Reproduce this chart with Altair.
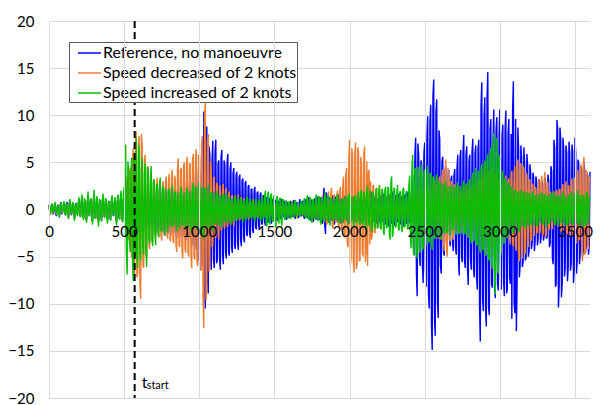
import altair as alt
import pandas as pd

# samples every 5 s: main samples at 0,10,...,3600 and mid samples at 5,15,...,3595
times_main = list(range(0, 3601, 10))
times_mid = list(range(5, 3600, 10))

blue = [
    0.5,-0.4,0.6,-0.5,0.4,-0.7,0.5,-0.6,0.8,-0.3,
    0.7,-0.6,0.8,-0.8,0.9,-0.6,0.6,-0.9,0.7,-0.5,
    1.0,-0.8,1.2,-0.9,0.9,-1.1,1.3,-0.7,1.1,-1.2,
    1.4,-1.0,1.1,-1.3,1.0,-1.2,1.2,-0.8,1.0,-1.1,
    0.9,-1.1,1.2,-0.7,1.0,-1.3,1.4,-1.0,1.5,-1.2,
    1.6,-1.9,2.2,-2.4,2.8,-2.6,3.0,-2.9,2.7,-2.5,
    2.6,-2.3,2.4,-2.2,2.0,-2.1,2.3,-1.9,2.1,-2.0,
    2.2,-2.4,2.6,-2.1,2.9,-2.5,2.7,-2.8,3.1,-2.6,
    2.9,-2.7,3.1,-2.5,2.8,-3.0,2.6,-2.9,3.2,-2.8,
    3.0,-3.3,3.4,-2.9,3.6,-3.8,3.9,-4.2,4.6,-5.5,
    5.2,-6.4,7.2,10.4,-10.5,8.8,-8.9,5.8,-6.4,7.3,
    -6.2,7.4,-5.4,5.2,-6.4,6.3,-5.8,4.8,-5.2,5.9,
    -4.9,5.0,-4.6,4.4,-4.2,4.0,-4.3,3.7,-3.9,3.3,
    -3.5,3.0,-2.8,2.6,-3.0,2.2,-2.5,2.4,-2.1,1.9,
    -2.2,1.8,-1.6,1.5,-1.7,1.3,-1.4,1.2,-1.5,1.1,
    -1.3,1.0,-1.2,0.9,-1.0,1.1,-0.8,0.9,-1.1,0.8,
    -0.9,0.9,-0.8,1.0,-1.0,0.8,-0.9,1.1,-0.7,0.9,
    -1.0,1.1,-0.9,1.3,-1.2,1.0,-1.3,1.2,-1.0,1.4,
    -1.1,1.3,-1.5,2.3,-2.6,1.5,-1.4,1.3,-1.2,1.5,
    -1.6,1.4,-1.3,1.6,-1.5,1.2,-1.4,1.5,-1.2,1.3,
    -1.5,1.2,-1.1,1.4,-1.3,1.0,-1.2,1.3,-1.4,1.1,
    -1.0,1.3,-1.2,1.5,-1.4,1.9,-1.3,1.4,-1.5,1.2,
    -1.4,1.5,-1.3,1.7,-1.6,1.4,-1.8,1.6,-1.5,1.9,
    -1.7,1.5,-1.3,1.7,-1.6,1.4,-1.8,1.6,-1.5,1.9,
    1.8,-2.2,3.6,-4.8,7.6,-9.2,5.8,-6.0,4.8,-7.8,
    7.1,-8.2,9.9,-10.5,11.1,-14.9,13.8,-13.4,11.7,-11.5,
    7.5,-6.8,5.6,-4.9,4.6,-3.8,4.2,-3.9,3.6,-4.4,
    4.3,-4.8,5.8,-7.0,6.3,-5.6,7.9,-6.2,6.7,-8.0,
    5.8,-6.4,7.5,-7.2,6.8,-8.5,7.4,-14.0,13.5,-10.8,
    11.9,-12.4,14.6,-11.2,9.6,-8.3,10.6,-9.4,9.8,-8.6,
    10.6,-8.5,9.0,-9.2,10.5,-8.4,9.6,-7.9,-11.6,13.6,
    -11.0,-12.9,8.7,-7.2,6.8,-6.1,6.6,-5.4,5.9,-5.0,
    4.8,-4.2,3.9,-4.4,3.5,-3.8,3.2,-3.6,3.0,-3.3,
    3.4,-3.1,3.7,-4.0,4.6,-5.2,7.4,-8.2,9.5,-10.4,
    8.7,-9.3,7.6,-7.1,6.8,-7.6,7.2,-6.5,6.9,-7.8,
    7.6,-6.8,5.3,-5.8,4.6,-5.0,5.0,-4.5,3.9,-4.8,
    4.0,
]
blue_mid = [
    -0.2,0.3,-0.4,0.2,-0.5,0.3,-0.2,0.4,-0.5,0.2,
    -0.4,0.5,-0.3,0.6,-0.4,0.3,-0.6,0.4,-0.3,0.5,
    -0.6,0.7,-0.5,0.6,-0.8,0.7,-0.4,0.9,-0.6,0.8,
    -0.7,0.6,-0.9,0.7,-0.6,0.8,-0.5,0.7,-0.8,0.6,
    -0.6,0.8,-0.5,0.7,-0.9,0.8,-0.7,1.0,-0.8,1.1,
    -1.2,1.4,-1.8,2.0,-1.9,2.2,-2.1,2.0,-1.8,1.9,
    -1.7,1.8,-1.6,1.5,-1.4,1.7,-1.3,1.6,-1.5,1.4,
    -1.6,1.8,-1.5,2.0,-1.9,2.1,-2.0,2.2,-1.9,2.1,
    -2.0,2.2,-1.9,2.1,-2.3,2.0,-2.2,2.4,-2.1,2.3,
    -2.4,2.6,-2.2,2.8,-2.9,3.0,-3.1,3.5,-3.8,4.1,
    -4.8,5.5,-6.0,-8.6,8.0,-7.5,6.7,-5.0,5.2,-5.4,
    6.1,-5.7,4.9,-5.1,5.6,-4.9,5.2,-4.6,4.9,-4.5,
    4.2,-4.0,3.9,-3.8,3.6,-3.5,3.4,-3.2,3.1,-2.9,
    2.8,-2.6,2.4,-2.5,2.1,-2.2,2.0,-1.9,1.8,-1.7,
    1.6,-1.5,1.4,-1.3,1.2,-1.2,1.1,-1.0,1.0,-0.9,
    0.9,-0.8,0.8,-0.7,0.9,-0.6,0.8,-0.7,0.6,-0.7,
    0.7,-0.6,0.8,-0.7,0.6,-0.8,0.7,-0.6,0.8,-0.7,
    0.8,-0.7,0.9,-0.8,1.0,-0.9,0.8,-1.0,0.9,-1.0,
    1.0,-1.1,1.2,-1.7,1.8,-1.2,1.1,-1.0,1.2,-1.1,
    1.1,-1.0,1.2,-1.1,1.0,-1.1,1.2,-1.0,1.1,-1.2,
    1.0,-0.9,1.1,-1.0,0.9,-1.0,1.1,-1.1,0.9,-1.0,
    1.0,-1.1,1.2,-1.1,1.4,-1.2,1.1,-1.2,1.0,-1.1,
    1.2,-1.1,1.3,-1.2,1.1,-1.3,1.2,-1.2,1.4,-1.3,
    1.3,-1.2,1.4,-1.3,1.2,-1.4,1.3,-1.2,1.5,-1.4,
    -1.5,2.8,-3.9,5.9,-6.8,7.0,-4.9,5.2,-6.1,6.0,
    -6.4,7.6,-8.8,9.4,-12.1,12.0,-11.6,10.3,-9.8,8.4,
    -6.0,5.1,-4.5,3.9,-3.4,3.5,-3.1,3.2,-3.5,3.6,
    -3.9,4.4,-5.3,5.6,-4.9,6.1,-5.4,5.9,-6.4,5.2,
    -5.2,6.1,-6.3,6.0,-7.1,6.4,-10.2,11.0,-9.5,9.8,
    -10.5,11.8,-10.4,8.6,-7.9,7.6,-8.2,8.5,-7.8,7.9,
    -7.4,7.9,-7.6,8.4,-8.9,8.1,-7.2,8.0,10.4,-9.8,
    9.6,-7.5,6.4,-5.9,5.4,-5.6,4.9,-5.0,4.6,-4.3,
    3.9,-3.6,3.5,-3.3,3.0,-3.1,2.8,-2.9,2.6,-2.8,
    2.7,-2.9,3.1,-3.6,4.1,-5.8,6.5,-7.9,8.4,-8.1,
    7.6,-7.8,6.4,-6.2,6.0,-6.1,6.0,-5.8,6.2,-6.4,
    6.0,-5.4,4.9,-4.6,4.2,-4.4,4.0,-3.9,3.6,-3.8,
]

orange = [
    0.4,-0.6,0.5,-0.3,0.7,-0.5,0.3,-0.8,0.6,-0.4,
    0.8,-0.5,0.6,-0.9,1.0,-0.5,0.7,-1.0,0.5,-0.6,
    1.1,-0.7,1.3,-1.0,0.8,-1.2,1.5,-0.6,1.0,-1.3,
    1.6,-0.9,1.2,-1.5,0.9,-1.1,1.4,-0.8,1.0,-1.2,
    0.7,-1.0,1.3,-0.5,1.1,-1.4,1.3,-0.9,1.6,-1.2,
    1.8,-2.5,3.5,-3.2,4.4,-5.1,6.5,-7.0,8.3,-6.8,
    7.8,-9.5,6.9,-6.2,5.8,-5.0,4.6,-4.2,3.9,-3.5,
    3.1,-2.8,3.4,-3.0,2.6,-3.3,3.0,-2.7,3.5,-3.1,
    3.8,-3.4,4.2,-3.6,3.3,-4.5,5.4,-4.0,4.4,-5.2,
    5.0,-4.6,5.6,-5.0,4.8,-6.2,5.9,-5.3,6.4,-6.0,
    5.7,-6.5,7.8,-12.6,11.3,-8.3,8.0,-6.1,4.2,-3.8,
    3.4,-3.0,2.8,-3.2,2.5,-2.2,2.7,-2.0,2.3,-1.8,
    1.9,-1.6,1.5,-1.8,1.4,-1.2,1.6,-1.1,1.3,-1.0,
    1.2,-1.0,0.9,-1.1,1.0,-0.8,1.1,-0.9,0.8,-1.0,
    0.9,-0.7,1.0,-0.8,0.7,-0.9,0.8,-0.6,0.9,-0.8,
    0.8,-0.9,0.6,-0.7,0.9,-0.6,0.7,-0.8,0.6,-0.7,
    0.7,-0.8,0.9,-0.6,0.8,-0.9,0.6,-0.7,0.8,-0.6,
    0.9,-0.7,1.1,-0.8,1.0,-1.2,0.9,-1.0,1.2,-0.9,
    1.3,-1.1,1.5,-1.4,1.2,-1.6,1.9,-1.5,2.3,-2.0,
    1.6,-1.4,2.0,-1.8,2.4,-2.2,3.5,-2.8,4.4,-4.0,
    7.4,-5.2,5.8,-6.7,7.1,-5.9,6.0,-5.4,4.8,-5.0,
    6.7,-4.6,-6.0,4.2,3.0,-2.9,2.6,-2.5,2.2,-1.8,
    2.0,-1.7,1.8,-1.9,1.5,-1.6,1.7,-1.4,1.6,-1.3,
    1.4,-1.6,1.3,-1.2,1.5,-1.4,1.2,-1.5,1.4,-1.3,
    1.7,-1.9,2.0,-1.6,2.3,-1.8,2.1,-2.2,1.9,-2.0,
    2.3,-2.1,2.6,-2.4,2.2,-2.8,3.0,-2.5,2.7,-3.1,
    3.5,-3.2,4.2,-4.4,5.3,-5.0,3.6,-3.4,3.0,-3.2,
    2.6,-2.2,2.4,-2.5,2.0,-2.3,2.5,-1.9,2.2,-2.4,
    2.3,-2.0,2.7,-2.4,2.9,-2.6,3.2,-2.8,3.6,-3.0,
    5.0,-3.5,4.2,-4.0,4.4,-5.2,4.6,-4.3,3.9,-3.6,
    3.2,-3.4,2.9,-3.1,3.6,-2.8,3.3,-3.7,4.1,-3.9,
    4.6,-4.4,5.3,-5.5,4.9,-5.2,4.3,-4.7,3.6,-4.0,
    3.1,-3.3,2.6,-2.8,2.3,-2.5,3.2,-2.2,3.6,-2.4,
    4.0,-2.6,2.9,-2.0,1.7,-2.1,1.9,-1.6,2.1,-1.8,
    2.2,-2.4,2.7,-2.1,3.0,-2.6,2.4,-2.9,3.3,-2.7,
    3.4,-3.6,4.2,-3.1,4.8,-5.5,5.6,-4.6,3.9,-4.2,
    3.0,
]
orange_mid = [
    -0.3,0.2,-0.4,0.3,-0.3,0.4,-0.5,0.3,-0.2,0.5,
    -0.4,0.3,-0.6,0.5,-0.3,0.6,-0.5,0.4,-0.4,0.6,
    -0.5,0.8,-0.6,0.7,-0.9,0.8,-0.5,0.7,-0.8,0.9,
    -0.6,0.8,-0.9,0.6,-0.7,0.9,-0.6,0.8,-0.7,0.6,
    -0.5,0.8,-0.4,0.7,-0.9,0.8,-0.6,1.0,-0.8,1.2,
    -1.6,2.4,-2.8,3.6,-4.2,5.0,-5.8,6.9,-7.2,7.1,
    -7.8,8.0,-5.9,5.3,-4.9,4.4,-3.8,3.6,-3.2,2.9,
    -2.6,2.7,-2.5,2.4,-2.8,2.5,-2.3,2.8,-2.6,3.0,
    -3.1,3.3,-3.2,3.6,-3.8,4.3,-3.7,4.2,-4.4,4.6,
    -4.3,4.7,-4.5,4.9,-5.1,5.2,-5.0,5.4,-5.6,5.8,
    -6.1,6.8,-9.5,9.8,-9.6,7.2,-6.6,5.1,-4.0,3.4,
    -3.0,2.7,-2.6,2.5,-2.2,2.1,-1.9,2.0,-1.7,1.6,
    -1.5,1.4,-1.3,1.4,-1.1,1.2,-1.0,1.1,-0.9,1.0,
    -0.9,0.8,-0.8,0.9,-0.7,0.8,-0.7,0.8,-0.7,0.7,
    -0.6,0.7,-0.6,0.6,-0.7,0.6,-0.5,0.7,-0.6,0.6,
    -0.6,0.7,-0.5,0.6,-0.5,0.6,-0.6,0.5,-0.5,0.6,
    -0.6,0.6,-0.5,0.7,-0.6,0.5,-0.6,0.6,-0.5,0.7,
    -0.6,0.8,-0.7,0.9,-0.8,0.8,-0.9,0.9,-0.8,1.0,
    -0.9,1.1,-1.0,1.2,-1.3,1.4,-1.3,1.6,-1.7,1.5,
    -1.2,1.5,-1.6,1.9,-2.0,2.6,-3.0,3.8,-3.6,5.2,
    -6.0,6.5,-5.4,5.9,-6.3,6.6,-5.5,5.6,-4.6,5.8,
    -5.6,5.1,3.8,-3.7,-3.2,2.5,-2.4,2.1,-2.0,1.8,
    -1.6,1.5,-1.6,1.4,-1.3,1.4,-1.2,1.3,-1.2,1.2,
    -1.3,1.2,-1.1,1.2,-1.2,1.1,-1.3,1.2,-1.1,1.4,
    -1.5,1.6,-1.7,1.8,-1.6,1.9,-1.8,1.7,-1.8,2.0,
    -1.8,2.2,-2.0,2.3,-2.4,2.5,-2.2,2.4,-2.6,2.9,
    -2.8,3.4,-3.6,3.9,-4.2,4.4,-3.1,2.9,-2.7,2.6,
    -2.3,2.1,-2.2,2.0,-2.1,1.9,-2.0,2.1,-1.9,2.0,
    -1.9,2.2,-2.1,2.5,-2.4,2.8,-2.6,3.1,-2.9,3.3,
    -3.4,3.8,-3.6,3.9,-4.4,4.0,-3.9,3.6,-3.3,3.0,
    -2.9,2.6,-2.7,3.0,-2.6,3.1,-3.0,3.4,-3.5,3.8,
    -4.0,4.5,-4.6,4.8,-4.5,4.6,-4.1,3.9,-3.5,3.2,
    -2.8,2.7,-2.4,2.3,-2.1,2.4,-2.6,2.9,-2.8,3.0,
    -2.9,2.4,-2.2,1.9,-1.8,1.7,-1.6,1.8,-1.7,1.9,
    -2.0,2.3,-2.2,2.4,-2.5,2.6,-2.4,2.8,-2.7,3.0,
    -3.1,3.5,-3.3,3.8,-4.2,4.6,-4.8,4.2,-3.8,3.5,
]

green = [
    0.3,-0.5,0.6,-0.2,0.8,-0.6,0.4,-0.9,0.7,-0.3,
    0.9,-0.6,0.5,-1.0,1.1,-0.4,0.8,-1.2,0.6,-0.7,
    1.3,-0.8,1.6,-1.1,0.9,-1.4,1.9,-0.7,1.2,-1.6,
    2.1,-1.0,1.4,-1.8,1.0,-1.3,1.7,-0.9,1.1,-1.5,
    0.8,-1.2,1.5,-0.6,1.3,-1.7,1.6,-1.1,2.0,-1.4,
    2.4,6.9,-6.9,4.2,-4.5,5.5,-7.6,6.0,7.6,-6.2,
    6.8,-5.4,5.5,-4.8,4.9,-6.1,4.0,-3.6,4.6,-3.9,
    3.2,-3.8,2.7,-2.9,3.4,-2.2,2.5,-2.8,1.9,-2.4,
    2.2,-1.8,2.6,-1.5,1.9,-2.3,1.7,-2.0,2.4,-1.6,
    1.8,-2.1,2.3,-1.7,2.0,-2.6,2.8,-1.9,2.5,-2.2,
    3.0,-2.7,2.4,-3.1,2.2,-1.9,2.6,-2.0,1.7,-2.3,
    1.8,-1.5,2.0,-1.7,1.4,-1.9,1.6,-1.2,1.8,-1.4,
    1.2,-1.6,1.0,-1.3,1.5,-1.1,1.3,-0.9,1.1,-1.4,
    0.9,-1.2,1.4,-0.8,1.1,-1.0,0.8,-1.3,1.2,-0.9,
    1.0,-1.2,1.5,-0.9,2.0,-1.8,1.9,-1.6,1.7,-1.3,
    1.6,-1.9,1.4,-1.5,1.2,-1.7,1.0,-1.1,0.9,-1.0,
    0.8,-1.0,0.7,-0.9,1.0,-0.6,0.5,-0.8,0.9,-0.5,
    1.2,-0.9,1.5,-1.1,1.3,-1.4,1.1,-0.8,1.6,-1.2,
    1.4,-1.6,1.2,-1.3,1.8,-1.0,1.5,-1.7,1.1,-1.2,
    1.3,-1.1,1.6,-1.4,1.0,-1.5,1.2,-0.9,1.4,-1.6,
    1.7,-1.3,1.1,-1.8,1.5,-1.2,1.9,-1.6,2.1,-1.4,
    1.8,-2.2,2.5,-1.7,2.0,-2.4,1.6,-2.0,2.3,-1.9,
    2.6,-2.1,2.0,-2.7,2.4,-1.8,2.2,-3.2,3.5,-2.5,
    2.1,-1.8,2.6,-2.2,1.9,-2.4,2.3,-1.7,2.0,-2.1,
    3.6,-4.1,5.8,-4.9,4.4,-5.2,3.9,-4.6,4.8,-4.0,
    4.2,-3.8,4.6,-3.5,3.9,-4.3,3.4,-3.1,3.7,-2.9,
    2.8,-3.2,2.5,-2.6,3.0,-2.4,2.2,-2.8,2.6,-2.1,
    2.4,-2.7,2.9,-2.3,2.1,-2.6,3.1,-2.5,2.7,-3.0,
    3.2,-3.6,3.9,-3.1,4.4,-3.8,4.1,-4.6,4.8,-4.2,
    5.2,-4.7,5.9,-5.4,6.6,-6.3,8.1,-9.0,7.2,-6.8,
    5.1,-4.4,3.8,-3.5,3.2,-2.9,2.6,-2.7,2.3,-2.5,
    2.0,-2.2,1.8,-2.4,2.1,-1.7,1.9,-2.0,1.6,-1.8,
    1.7,-1.5,1.9,-1.6,1.4,-1.8,1.5,-1.3,1.8,-1.6,
    1.6,-1.9,1.4,-1.5,1.7,-1.2,1.9,-1.6,1.3,-1.7,
    1.5,-1.3,1.8,-1.6,1.2,-1.7,1.6,-1.4,1.9,-1.5,
    1.7,-1.4,2.0,-1.6,1.5,-1.8,1.3,-1.7,1.9,-1.2,
    1.0,
]
green_mid = [
    -0.1,0.4,-0.3,0.5,-0.2,0.3,-0.4,0.6,-0.2,0.5,
    -0.3,0.6,-0.5,0.7,-0.3,0.5,-0.6,0.5,-0.4,0.8,
    -0.5,1.0,-0.7,1.2,-0.8,0.9,-0.6,1.1,-0.9,1.0,
    -0.6,1.2,-0.8,1.1,-0.7,1.0,-0.6,1.2,-0.8,0.9,
    -0.7,1.0,-0.5,0.9,-1.0,1.2,-0.8,1.4,-1.0,1.6,
    -2.8,-4.5,5.1,-3.3,3.8,-4.8,5.2,-5.0,-4.9,5.4,
    -4.6,4.2,-3.9,3.8,-4.4,4.5,-3.1,3.0,-3.2,3.0,
    -2.6,2.5,-2.2,2.6,-2.3,2.0,-2.1,2.2,-1.8,1.9,
    -1.7,1.6,-1.8,1.7,-1.6,1.8,-1.5,1.9,-1.7,1.6,
    -1.6,1.8,-1.9,1.7,-1.8,2.1,-2.0,2.2,-1.9,2.3,
    -2.4,2.2,-2.5,2.3,-1.8,1.9,-1.7,1.8,-1.6,1.7,
    -1.5,1.4,-1.6,1.5,-1.4,1.5,-1.3,1.4,-1.2,1.3,
    -1.1,1.2,-1.0,1.1,-1.2,1.0,-0.9,1.1,-1.0,1.0,
    -0.8,1.0,-0.9,1.1,-0.8,0.9,-0.9,1.0,-0.8,0.9,
    -0.9,1.1,-1.0,1.4,-1.5,1.6,-1.4,1.5,-1.2,1.3,
    -1.4,1.3,-1.2,1.2,-1.3,1.1,-0.9,0.9,-0.8,0.8,
    -0.7,0.8,-0.6,0.8,-0.7,0.6,-0.6,0.7,-0.6,0.9,
    -0.8,1.1,-1.0,1.2,-1.1,1.0,-1.0,1.3,-1.1,1.2,
    -1.2,1.3,-1.1,1.4,-1.2,1.3,-1.3,1.2,-1.0,1.1,
    -1.0,1.2,-1.3,1.1,-1.2,1.0,-1.1,1.3,-1.2,1.4,
    -1.2,1.4,-1.5,1.3,-1.4,1.6,-1.5,1.7,-1.6,1.8,
    -1.9,1.8,-1.6,1.9,-2.0,1.8,-1.7,1.9,-2.0,2.1,
    -2.0,2.2,-2.3,2.1,-2.0,2.4,-2.6,2.8,-2.9,2.3,
    -1.9,2.0,-2.1,1.9,-2.0,2.1,-1.9,1.8,-2.0,2.6,
    -3.0,4.4,-4.6,4.2,-4.1,4.5,-4.2,4.0,-4.3,3.9,
    -3.7,3.6,-3.4,3.8,-3.6,3.5,-3.0,3.2,-2.8,3.0,
    -2.6,2.7,-2.3,2.5,-2.5,2.4,-2.3,2.2,-2.1,2.2,
    -2.2,2.4,-2.6,2.5,-2.2,2.5,-2.6,2.7,-2.6,2.8,
    -3.0,3.3,-3.4,3.6,-3.7,3.9,-4.0,4.2,-4.3,4.6,
    -4.9,5.0,-5.2,5.8,-5.7,6.9,-7.4,7.6,-6.5,5.8,
    -4.8,4.1,-3.6,3.3,-3.0,2.8,-2.5,2.4,-2.3,2.1,
    -2.0,1.9,-2.0,1.9,-1.8,1.8,-1.7,1.8,-1.6,1.7,
    -1.6,1.5,-1.7,1.5,-1.5,1.6,-1.4,1.5,-1.4,1.6,
    -1.6,1.5,-1.4,1.6,-1.3,1.5,-1.5,1.4,-1.5,1.4,
    -1.4,1.5,-1.6,1.4,-1.5,1.4,-1.5,1.6,-1.6,1.5,
    -1.5,1.6,-1.7,1.5,-1.6,1.5,-1.6,1.7,-1.5,1.4,
]

series_names = ["Reference, no manoeuvre", "Speed decreased of 2 knots", "Speed increased of 2 knots"]
series_colors = ["#0000FF", "#ED7D31", "#00C000"]
series_values = [(blue, blue_mid), (orange, orange_mid), (green, green_mid)]

x_ticks = [0, 500, 1000, 1500, 2000, 2500, 3000, 3500]
y_ticks = [-20, -15, -10, -5, 0, 5, 10, 15, 20]
t_start = 570

W, H = 541, 377
FONT = "Lato"
GRID = "#D9D9D9"

xscale = alt.Scale(domain=[0, 3600], nice=False, zero=False)
yscale = alt.Scale(domain=[-20, 20], nice=False)

x_axis = alt.Axis(values=x_ticks, format="d", grid=True, gridColor=GRID, gridWidth=1, domain=False, ticks=False,
                  offset=-H / 2, labelPadding=15, labelFontSize=15, labelFont=FONT, labelColor="#000000",
                  labelFlush=False, labelOverlap=False, title=None, zindex=1)
y_axis = alt.Axis(values=y_ticks, format="d", grid=True, gridColor=GRID, gridWidth=1, domain=False, ticks=False,
                  labelPadding=15, labelFontSize=15, labelFont=FONT, labelColor="#000000", title=None)


def series_layer(main_vals, mid_vals, color):
    df = pd.concat([
        pd.DataFrame({"t": times_main, "v": main_vals}),
        pd.DataFrame({"t": times_mid, "v": mid_vals}),
    ]).sort_values("t").reset_index(drop=True)
    return alt.Chart(df).mark_line(color=color, strokeWidth=1.4, strokeJoin="bevel").encode(
        x=alt.X("t:Q", scale=xscale, axis=x_axis),
        y=alt.Y("v:Q", scale=yscale, axis=y_axis),
        order="t:Q",
    )


layers = [series_layer(m, d, c) for (m, d), c in zip(series_values, series_colors)]

tdf = pd.DataFrame({"t": [t_start]})
layers.append(
    alt.Chart(tdf).mark_rule(color="#000000", strokeWidth=2, strokeDash=[7, 4]).encode(
        x=alt.X("t:Q", scale=xscale, axis=x_axis)
    )
)
layers.append(
    alt.Chart(tdf).mark_text(align="left", baseline="alphabetic", fontSize=16, font=FONT, dx=7, color="#000000").encode(
        x=alt.X("t:Q", scale=xscale, axis=x_axis), y=alt.value(367), text=alt.value("t")
    )
)
layers.append(
    alt.Chart(tdf).mark_text(align="left", baseline="alphabetic", fontSize=11, font=FONT, dx=12, color="#000000").encode(
        x=alt.X("t:Q", scale=xscale, axis=x_axis), y=alt.value(368), text=alt.value("start")
    )
)

# legend box
one = pd.DataFrame({"a": [0]})
layers.append(
    alt.Chart(one).mark_rect(fill="#FFFFFF", stroke="#595959", strokeWidth=1).encode(
        x=alt.value(20.5), x2=alt.value(248.5), y=alt.value(21.5), y2=alt.value(81.5)
    )
)
for i, (name, color) in enumerate(zip(series_names, series_colors)):
    yy = 32 + 20 * i
    layers.append(
        alt.Chart(one).mark_rule(color=color, strokeWidth=1.5).encode(
            x=alt.value(29), x2=alt.value(52), y=alt.value(yy)
        )
    )
    layers.append(
        alt.Chart(one).mark_text(align="left", baseline="middle", fontSize=16, font=FONT, color="#000000").encode(
            x=alt.value(54), y=alt.value(yy), text=alt.value(name)
        )
    )

chart = alt.layer(*layers).properties(
    width=W, height=H,
    autosize=alt.AutoSizeParams(type="none"),
    padding={"left": 41, "top": 13, "right": 10, "bottom": 7},
    background="#FFFFFF",
).configure_view(stroke=None)

chart.save("out.html", embed_options={"renderer": "svg", "actions": False})
